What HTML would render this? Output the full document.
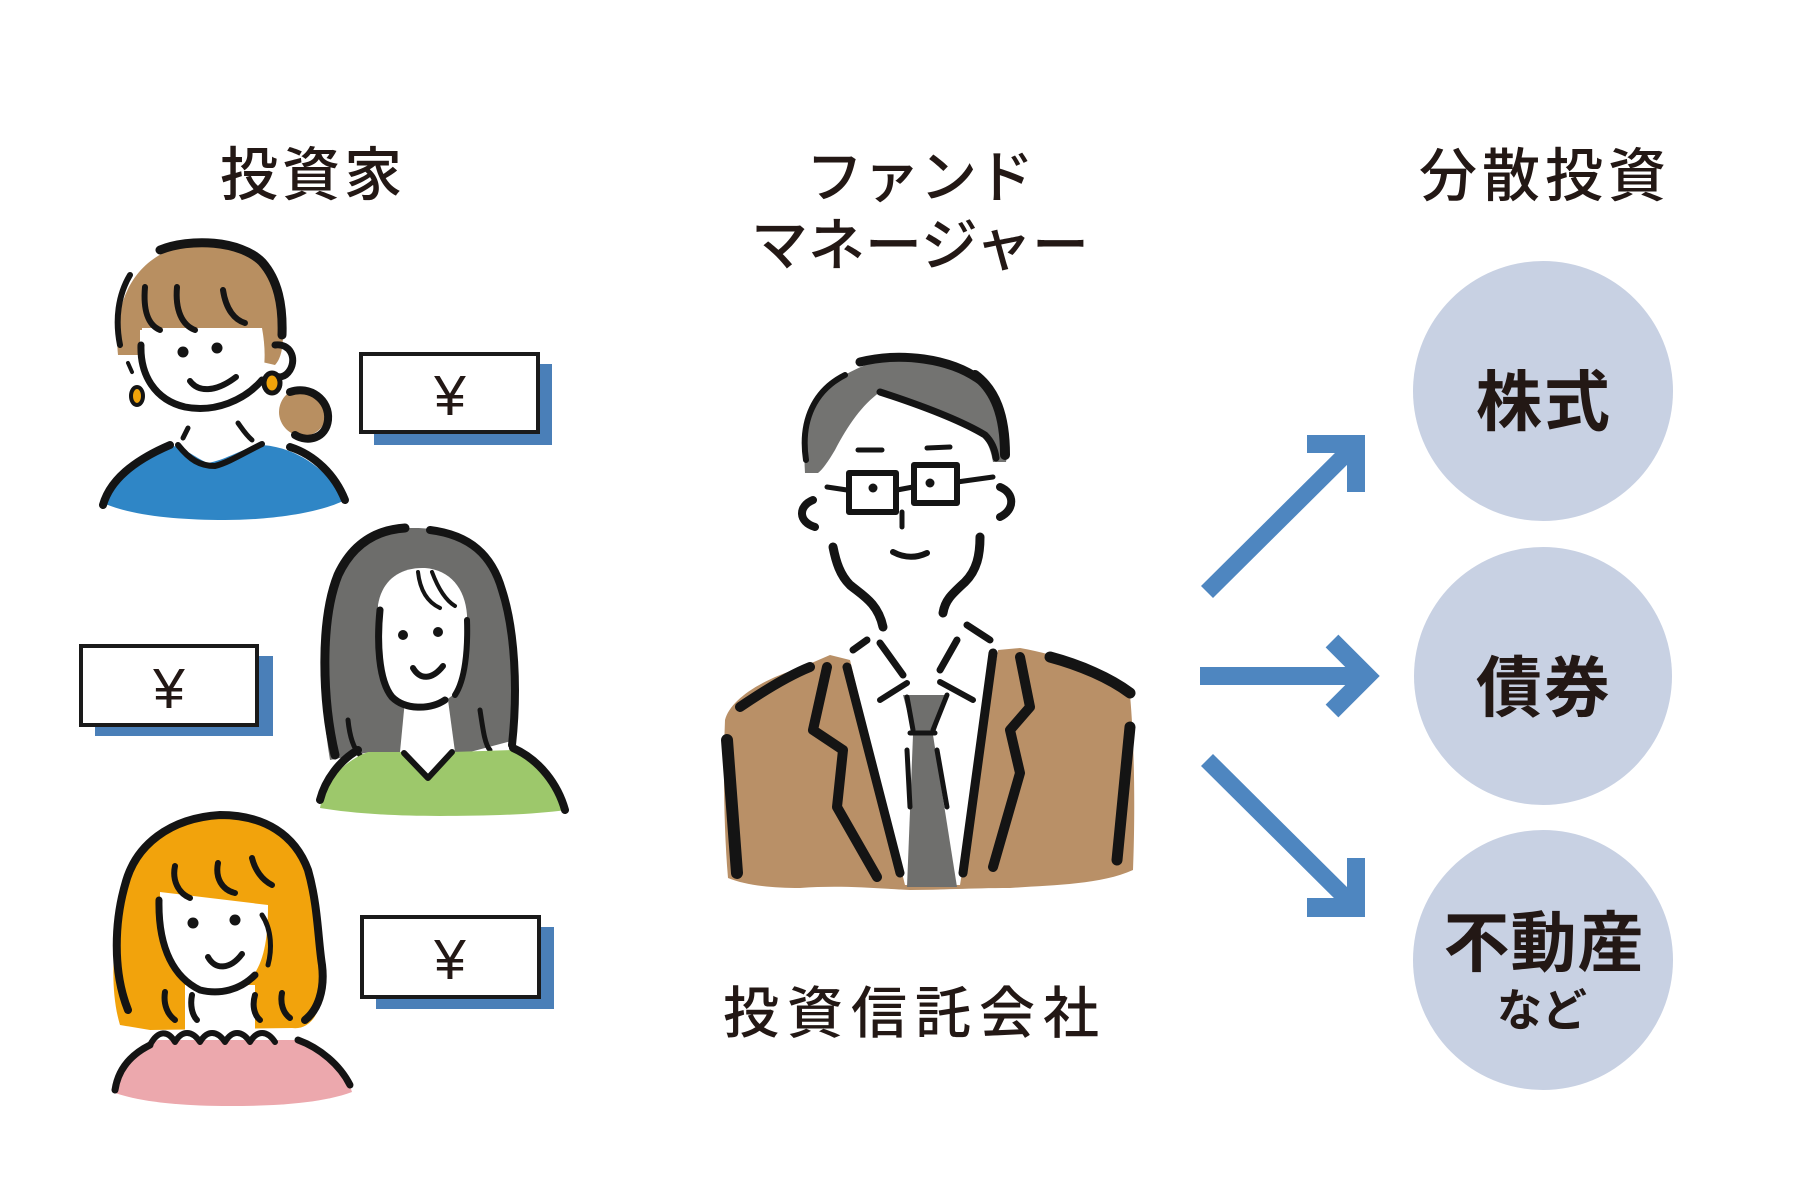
<!DOCTYPE html>
<html><head><meta charset="utf-8"><style>
html,body{margin:0;padding:0;background:#fff;}
svg{display:block;}
.t{font-family:"Liberation Sans","Noto Sans CJK JP",sans-serif;fill:#231815;}
</style></head><body>
<svg width="1800" height="1185" viewBox="0 0 1800 1185" xmlns="http://www.w3.org/2000/svg">
<rect width="1800" height="1185" fill="#fff"/>

<!-- Titles -->
<text class="t" x="313" y="195" font-size="58" font-weight="500" letter-spacing="4" text-anchor="middle">投資家</text>
<text class="t" x="920" y="197" font-size="57" font-weight="500" letter-spacing="0" text-anchor="middle">ファンド</text>
<text class="t" x="920" y="265" font-size="57" font-weight="500" letter-spacing="0" text-anchor="middle">マネージャー</text>
<text class="t" x="1545" y="196" font-size="58" font-weight="500" letter-spacing="5" text-anchor="middle">分散投資</text>
<text class="t" x="915" y="1033" font-size="56" font-weight="500" letter-spacing="8" text-anchor="middle">投資信託会社</text>

<!-- Circles -->
<circle cx="1543" cy="391" r="130" fill="#c8d1e3"/>
<circle cx="1543" cy="676" r="129" fill="#c8d1e3"/>
<circle cx="1543" cy="960" r="130" fill="#c8d1e3"/>
<text class="t" x="1544" y="425" font-size="66" font-weight="700" letter-spacing="2" text-anchor="middle">株式</text>
<text class="t" x="1544" y="711" font-size="66" font-weight="700" letter-spacing="2" text-anchor="middle">債券</text>
<text class="t" x="1544" y="966" font-size="66" font-weight="700" letter-spacing="1" text-anchor="middle">不動産</text>
<text class="t" x="1542" y="1026" font-size="45" font-weight="700" text-anchor="middle">など</text>

<!-- Arrows -->
<g fill="#4e86c0" stroke="none">
  <line x1="1207" y1="592" x2="1352" y2="448" stroke="#4e86c0" stroke-width="17"/>
  <polygon points="1307,435 1365,435 1365,492 1347,492 1347,453 1307,453"/>
  <rect x="1200" y="667" width="160" height="18"/>
  <polyline points="1332,641 1367,676 1332,711" fill="none" stroke="#4e86c0" stroke-width="18" stroke-miterlimit="4"/>
  <line x1="1207" y1="760" x2="1352" y2="904" stroke="#4e86c0" stroke-width="17"/>
  <polygon points="1307,898 1307,917 1365,917 1365,858 1347,858 1347,898"/>
</g>

<!-- Yen boxes -->
<rect x="374" y="364" width="178" height="81" fill="#4a7fb8"/>
<rect x="361" y="354" width="177" height="78" fill="#fff" stroke="#1a1a1a" stroke-width="4"/>
<text class="t" x="450" y="415" font-size="57" text-anchor="middle">¥</text>

<rect x="95" y="656" width="178" height="80" fill="#4a7fb8"/>
<rect x="81" y="646" width="176" height="79" fill="#fff" stroke="#1a1a1a" stroke-width="4"/>
<text class="t" x="169" y="708" font-size="57" text-anchor="middle">¥</text>

<rect x="376" y="927" width="178" height="82" fill="#4a7fb8"/>
<rect x="362" y="917" width="177" height="80" fill="#fff" stroke="#1a1a1a" stroke-width="4"/>
<text class="t" x="450" y="979" font-size="57" text-anchor="middle">¥</text>

<!-- Woman 1 -->
<g stroke="#141414" stroke-linecap="round" stroke-linejoin="round" fill="none">
  <path d="M118,355 C112,295 140,248 200,243 C255,240 285,280 283,335 C283,350 280,360 275,365 L262,362 L262,330 L140,330 L140,355 Z" fill="#b88f61" stroke="none"/>
  <circle cx="303" cy="412" r="24" fill="#b88f61" stroke="none"/>
  <path d="M142,328 L262,328 C266,350 266,372 258,388 C245,402 225,410 200,408 C170,405 150,390 142,370 Z" fill="#fff" stroke="none"/>
  <path d="M103,503 C110,478 135,455 168,445 C185,447 195,458 208,463 C225,460 240,450 258,445 C290,445 325,465 345,500 C320,513 270,520 225,520 C175,520 130,515 103,503 Z" fill="#2f86c6" stroke="none"/>
  <path d="M160,250 C190,238 240,240 262,262 C278,280 283,305 282,335" stroke-width="9"/>
  <path d="M130,275 C118,295 115,320 120,345" stroke-width="6"/>
  <path d="M145,287 C143,310 148,325 160,330" stroke-width="6"/>
  <path d="M177,287 C175,310 182,325 195,330" stroke-width="6"/>
  <path d="M223,290 C226,310 235,320 245,323" stroke-width="6"/>
  <path d="M275,345 C290,343 297,358 290,370 C285,378 278,378 275,375" stroke-width="7"/>
  <ellipse cx="272" cy="383" rx="8" ry="10" fill="#f0a30a" stroke-width="5"/>
  <ellipse cx="137" cy="396" rx="6" ry="9" fill="#f0a30a" stroke-width="4"/>
  <path d="M290,392 C310,385 330,400 328,420 C326,438 308,443 295,435" stroke-width="8"/>
  <path d="M141,345 C140,375 155,400 185,407 C215,413 245,400 262,380" stroke-width="7"/>
  <path d="M128,363 L132,372" stroke-width="4"/>
  <circle cx="183" cy="352" r="5.5" fill="#141414" stroke="none"/>
  <circle cx="217" cy="348" r="5.5" fill="#141414" stroke="none"/>
  <path d="M190,381 C198,392 215,393 236,377" stroke-width="6"/>
  <path d="M188,428 L183,438" stroke-width="5"/>
  <path d="M238,423 C243,430 246,435 252,440" stroke-width="5"/>
  <path d="M178,445 C190,460 200,466 215,466 C230,462 245,452 262,444" stroke-width="6"/>
  <path d="M103,505 C110,480 135,460 170,445" stroke-width="8"/>
  <path d="M290,447 C315,455 335,475 345,500" stroke-width="8"/>
</g>

<!-- Woman 2 -->
<g stroke="#141414" stroke-linecap="round" stroke-linejoin="round" fill="none">
  <path d="M330,760 C320,700 318,620 335,575 C350,540 380,527 415,528 C455,528 485,545 500,580 C515,620 520,680 515,740 L470,752 L370,752 Z" fill="#6d6d6b" stroke="none"/>
  <path d="M378,605 C382,580 400,567 425,568 C450,570 465,588 467,615 L466,670 C462,692 445,706 422,707 C398,707 382,693 378,670 Z" fill="#fff" stroke="none"/>
  <path d="M405,700 L448,700 L455,752 L400,752 Z" fill="#fff" stroke="none"/>
  <path d="M335,755 C322,700 320,620 338,575 C352,545 375,530 405,528" stroke-width="9"/>
  <path d="M430,530 C470,535 492,555 502,590 C515,630 518,690 512,745" stroke-width="8"/>
  <path d="M380,610 C377,640 378,680 392,697 C405,710 430,710 445,700" stroke-width="7"/>
  <path d="M467,620 C468,650 465,680 455,695" stroke-width="6"/>
  <path d="M418,572 C420,590 427,602 440,608" stroke-width="4"/>
  <path d="M432,572 C438,588 445,600 455,606" stroke-width="4"/>
  <path d="M348,720 C350,740 355,750 360,755" stroke-width="5"/>
  <path d="M480,710 C483,730 485,745 490,750" stroke-width="5"/>
  <circle cx="403" cy="635" r="5" fill="#141414" stroke="none"/>
  <circle cx="438" cy="632" r="5" fill="#141414" stroke="none"/>
  <path d="M413,668 C420,680 432,680 443,666" stroke-width="6"/>
  <path d="M320,808 C325,782 342,762 368,752 L404,752 L428,778 L452,752 L512,750 C540,760 560,785 566,810 C530,815 480,816 440,816 C390,816 350,813 320,808 Z" fill="#9dc86b" stroke="none"/>
  <path d="M404,753 L428,778 L452,752" stroke-width="6"/>
  <path d="M320,800 C325,780 340,760 358,750" stroke-width="8"/>
  <path d="M513,748 C540,760 558,785 565,810" stroke-width="8"/>
</g>

<!-- Woman 3 -->
<g stroke="#141414" stroke-linecap="round" stroke-linejoin="round" fill="none">
  <path d="M120,1025 C108,985 115,935 120,895 C126,848 160,818 215,816 C268,815 300,840 310,880 C318,915 325,960 320,1000 C318,1020 305,1030 292,1028 L150,1030 Z" fill="#f2a30c" stroke="none"/>
  <path d="M160,892 L268,905 C268,940 264,965 248,982 C232,995 205,995 190,985 C168,970 160,940 160,892 Z" fill="#fff" stroke="none"/>
  <path d="M185,985 L255,985 L255,1042 L185,1042 Z" fill="#fff" stroke="none"/>
  <path d="M128,1010 C112,970 115,920 125,885 C135,845 170,818 220,815 C265,815 295,835 308,870 C318,905 318,940 322,965 C325,990 318,1010 305,1020" stroke-width="8"/>
  <path d="M175,866 C172,880 178,893 190,898" stroke-width="6"/>
  <path d="M218,863 C215,878 222,890 235,893" stroke-width="6"/>
  <path d="M252,858 C255,870 262,880 272,885" stroke-width="6"/>
  <path d="M159,900 C158,950 175,978 200,990 C220,995 240,990 255,975" stroke-width="7"/>
  <path d="M262,915 C272,930 272,950 268,965" stroke-width="5"/>
  <path d="M165,992 C163,1005 168,1015 175,1020" stroke-width="6"/>
  <path d="M192,995 C190,1005 192,1015 197,1020" stroke-width="6"/>
  <path d="M255,995 C252,1005 254,1015 260,1020" stroke-width="6"/>
  <path d="M282,993 C280,1003 283,1013 290,1018" stroke-width="6"/>
  <circle cx="193" cy="923" r="5.5" fill="#141414" stroke="none"/>
  <circle cx="235" cy="920" r="5.5" fill="#141414" stroke="none"/>
  <path d="M208,957 C215,970 230,970 242,954" stroke-width="6"/>
  <path d="M112,1092 C118,1068 135,1050 158,1040 L300,1040 C325,1050 345,1068 352,1092 C320,1104 270,1106 230,1106 C180,1106 140,1102 112,1092 Z" fill="#eca8ad" stroke="none"/>
  <path d="M150,1045 C158,1030 168,1030 175,1042 C182,1030 192,1030 200,1042 C207,1030 217,1030 225,1042 C232,1030 242,1030 250,1042 C257,1030 267,1030 275,1042" stroke-width="6"/>
  <path d="M115,1090 C118,1070 130,1055 150,1045" stroke-width="7"/>
  <path d="M298,1040 C320,1048 340,1065 350,1085" stroke-width="7"/>
</g>

<!-- Man -->
<g stroke="#141414" stroke-linecap="round" stroke-linejoin="round" fill="none">
  <path d="M805,473 C802,430 812,395 840,378 C865,362 890,357 905,357 C950,358 990,380 1003,415 C1010,435 1008,452 1006,462 L993,462 C990,445 985,437 975,430 C950,418 910,402 880,392 C862,405 848,425 835,450 C828,462 822,470 818,473 Z" fill="#737371" stroke="none"/>
  <path d="M806,460 C800,420 815,390 845,375" stroke-width="6"/>
  <path d="M860,362 C900,352 950,358 980,380" stroke-width="9"/>
  <path d="M975,375 C995,390 1005,415 1005,455" stroke-width="10"/>
  <path d="M880,392 C920,405 960,420 985,435 C992,442 995,450 996,458" stroke-width="7"/>
  <path d="M858,450 L882,450" stroke-width="5"/>
  <path d="M927,448 L950,447" stroke-width="5"/>
  <rect x="849" y="473" width="47" height="39" stroke-width="6"/>
  <rect x="914" y="465" width="43" height="38" stroke-width="6"/>
  <path d="M897,490 L913,487" stroke-width="5"/>
  <path d="M827,487 L847,490" stroke-width="5"/>
  <path d="M957,482 L993,477" stroke-width="5"/>
  <circle cx="873" cy="488" r="4.5" fill="#141414" stroke="none"/>
  <circle cx="930" cy="483" r="4.5" fill="#141414" stroke="none"/>
  <path d="M902,512 L902,527" stroke-width="5"/>
  <path d="M893,552 Q910,561 927,553" stroke-width="6"/>
  <path d="M813,500 C798,506 798,522 815,527" stroke-width="8"/>
  <path d="M1000,487 C1015,493 1015,510 1000,517" stroke-width="8"/>
  <path d="M833,547 C836,562 840,575 850,585 C862,595 878,603 883,627" stroke-width="9"/>
  <path d="M980,537 C980,555 977,570 965,582 C952,594 945,600 943,613" stroke-width="9"/>
  <!-- jacket -->
  <path d="M725,720 C730,700 760,680 800,668 L830,655 L850,660 L905,885 L960,885 L998,650 L1020,648 C1060,655 1100,670 1130,695 C1135,750 1135,820 1133,870 C1100,885 1050,885 1010,888 C970,888 940,890 910,890 C870,888 840,885 800,888 C770,888 745,885 728,878 C724,830 723,770 725,720 Z" fill="#b99067" stroke="none"/>
  <path d="M903,695 L947,695 L935,733 L913,733 Z" fill="#6f6f6d" stroke="none"/>
  <path d="M913,735 L933,735 L957,887 L907,887 Z" fill="#6f6f6d" stroke="none"/>
  <path d="M853,650 L867,640" stroke-width="7"/>
  <path d="M880,643 L903,675" stroke-width="7"/>
  <path d="M967,625 L990,640" stroke-width="7"/>
  <path d="M957,640 L940,670" stroke-width="7"/>
  <path d="M880,700 L907,683" stroke-width="6"/>
  <path d="M940,682 L973,700" stroke-width="6"/>
  <path d="M907,697 L913,730" stroke-width="5"/>
  <path d="M947,695 L933,730" stroke-width="5"/>
  <path d="M910,733 L935,733" stroke-width="5"/>
  <path d="M907,750 L910,807" stroke-width="5"/>
  <path d="M937,750 L947,807" stroke-width="5"/>
  <path d="M827,667 L813,730 L843,750 L837,807 L877,877" stroke-width="10"/>
  <path d="M847,667 L900,873" stroke-width="9"/>
  <path d="M993,653 L963,873" stroke-width="9"/>
  <path d="M1020,657 L1030,707 L1010,730 L1020,773 L993,867" stroke-width="10"/>
  <path d="M727,740 L737,873" stroke-width="12"/>
  <path d="M1130,727 L1117,860" stroke-width="11"/>
  <path d="M740,707 C765,690 790,675 810,667" stroke-width="10"/>
  <path d="M1050,657 C1080,665 1110,678 1130,693" stroke-width="11"/>
</g>
</svg>
</body></html>
